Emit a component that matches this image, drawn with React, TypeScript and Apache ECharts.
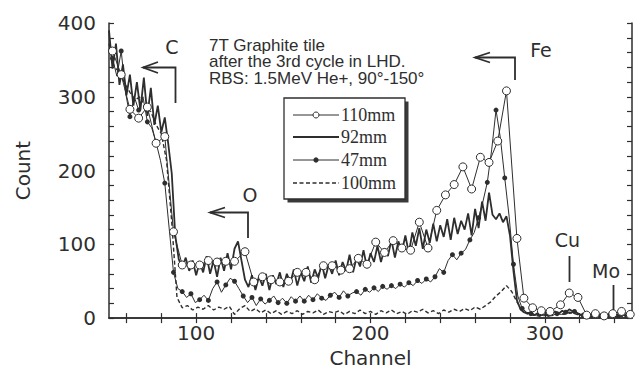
import React, { useEffect, useRef } from "react";
import * as echarts from "echarts";

// ---------- axis ticks / labels ----------
const xTickValues = [60, 80, 100, 120, 140, 160, 180, 200, 220, 240, 260, 280, 300, 320, 340];
const xLabelValues = [100, 200, 300];
const yLabelValues = [0, 100, 200, 300, 400];

// ---------- series names ----------
const seriesNames = ["110mm", "92mm", "47mm", "100mm"];

// ---------- data: [channel, count] ----------
const s110: [number, number][] = [
  [52, 362], [57, 330], [62, 283], [67, 271], [72, 286], [77, 237], [82, 246], [87, 117],
  [92, 72], [97, 72], [102, 72], [107, 78], [112, 76], [117, 77], [122, 77], [128, 90],
  [133, 49], [138, 56], [143, 52], [148, 49], [153, 50], [158, 62], [163, 62], [168, 52],
  [173, 71], [178, 71], [183, 65], [188, 67], [193, 81], [198, 73], [203, 103], [208, 89],
  [213, 105], [218, 95], [223, 92], [228, 130], [233, 95], [238, 146], [243, 167], [248, 181],
  [253, 205], [258, 175], [263, 218], [268, 211], [273, 240], [278, 308], [284, 108], [288, 27],
  [293, 14], [298, 10], [303, 9], [309, 18], [314, 34], [319, 28], [324, 4], [329, 6],
  [334, 3], [339, 6], [344, 9], [349, 5],
];

const s92: [number, number][] = [
  [50, 390], [52, 338], [54, 372], [56, 316], [58, 344], [60, 302], [62, 330], [64, 288],
  [66, 320], [68, 282], [70, 326], [72, 274], [74, 312], [76, 262], [78, 288], [80, 252],
  [82, 272], [84, 236], [86, 196], [88, 112], [90, 80], [92, 68], [94, 82], [96, 64],
  [98, 78], [100, 58], [102, 76], [104, 62], [106, 84], [108, 60], [110, 78], [112, 56],
  [114, 82], [116, 64], [118, 88], [120, 66], [122, 94], [124, 104], [126, 78], [128, 52],
  [130, 42], [132, 58], [134, 38], [136, 56], [138, 44], [140, 60], [142, 38], [144, 58],
  [146, 46], [148, 62], [150, 42], [152, 60], [154, 48], [156, 66], [158, 44], [160, 62],
  [162, 50], [164, 70], [166, 48], [168, 66], [170, 54], [172, 74], [174, 54], [176, 72],
  [178, 60], [180, 78], [182, 58], [184, 76], [186, 64], [188, 86], [190, 62], [192, 82],
  [194, 70], [196, 92], [198, 68], [200, 88], [202, 76], [204, 98], [206, 76], [208, 94],
  [210, 84], [212, 106], [214, 82], [216, 104], [218, 90], [220, 112], [222, 88], [224, 116],
  [226, 98], [228, 122], [230, 94], [232, 120], [234, 102], [236, 128], [238, 104], [240, 126],
  [242, 110], [244, 134], [246, 106], [248, 136], [250, 114], [252, 132], [254, 120], [256, 142],
  [258, 112], [260, 148], [262, 122], [264, 158], [266, 132], [268, 170], [270, 140], [272, 134],
  [274, 142], [276, 130], [278, 138], [280, 112], [282, 64], [284, 24], [286, 12], [288, 8],
  [290, 6], [292, 8], [294, 4], [296, 7], [298, 5], [300, 8], [302, 4], [304, 6],
  [306, 9], [308, 6], [310, 10], [312, 7], [314, 12], [316, 9], [318, 8], [320, 5],
  [322, 3], [324, 4], [326, 2], [328, 4], [330, 3], [332, 2], [334, 4], [336, 3],
  [338, 5], [340, 2], [342, 4], [344, 3], [346, 5], [348, 3], [350, 4],
];

const s47: [number, number][] = [
  [52, 352], [54.5, 328], [57, 362], [59.5, 306], [62, 273], [64.5, 300], [67, 282], [69.5, 300],
  [72, 266], [74.5, 258], [77, 238], [79.5, 214], [82, 183], [84.5, 122], [87, 62], [89.5, 40],
  [92, 36], [94.5, 28], [97, 33], [99.5, 21], [102, 25], [104.5, 31], [107, 24], [109.5, 40],
  [112, 49], [114.5, 35], [117, 45], [119.5, 54], [122, 50], [124.5, 40], [127, 30], [129.5, 21],
  [132, 28], [134.5, 17], [137, 26], [139.5, 19], [142, 24], [144.5, 30], [147, 21], [149.5, 27],
  [152, 20], [154.5, 29], [157, 23], [159.5, 30], [162, 23], [164.5, 31], [167, 25], [169.5, 33],
  [172, 27], [174.5, 24], [177, 31], [179.5, 35], [182, 28], [184.5, 37], [187, 30], [189.5, 34],
  [192, 36], [194.5, 31], [197, 39], [199.5, 35], [202, 41], [204.5, 36], [207, 43], [209.5, 39],
  [212, 44], [214.5, 40], [217, 46], [219.5, 42], [222, 48], [224.5, 44], [227, 51], [229.5, 47],
  [232, 53], [234.5, 49], [237, 56], [239.5, 67], [242, 62], [244.5, 78], [247, 86], [249.5, 79],
  [252, 88], [254.5, 93], [257, 106], [259.5, 116], [262, 136], [264.5, 158], [267, 184], [269.5, 228],
  [272, 282], [274.5, 244], [277, 190], [279.5, 138], [282, 73], [284.5, 30], [287, 13], [289.5, 8],
  [292, 6], [294.5, 4], [297, 5], [299.5, 3], [302, 5], [304.5, 4], [307, 6], [309.5, 5],
  [312, 8], [314.5, 6], [317, 9], [319.5, 5], [322, 4], [324.5, 2], [327, 3], [329.5, 2],
  [332, 3], [334.5, 2], [337, 4], [339.5, 2], [342, 3], [344.5, 4], [347, 3], [349.5, 3],
];

const s100: [number, number][] = [
  [50, 372], [53, 340], [56, 334], [59, 318], [62, 306], [65, 296], [68, 300], [71, 284],
  [74, 280], [77, 262], [80, 250], [83, 214], [86, 130], [89, 28], [92, 14], [95, 17],
  [98, 11], [101, 15], [104, 12], [107, 17], [110, 11], [113, 15], [116, 12], [119, 16],
  [122, 5], [125, 13], [128, 17], [131, 9], [134, 13], [137, 7], [140, 11], [143, 6],
  [146, 10], [149, 5], [152, 9], [155, 6], [158, 10], [161, 5], [164, 9], [167, 7],
  [170, 11], [173, 5], [176, 9], [179, 7], [182, 10], [185, 5], [188, 9], [191, 6],
  [194, 11], [197, 6], [200, 9], [203, 5], [206, 10], [209, 7], [212, 11], [215, 6],
  [218, 9], [221, 5], [224, 10], [227, 8], [230, 12], [233, 7], [236, 10], [239, 6],
  [242, 11], [245, 8], [248, 12], [251, 9], [254, 13], [257, 10], [260, 15], [263, 12],
  [266, 17], [269, 22], [272, 30], [275, 36], [278, 44], [281, 36], [284, 22], [287, 11],
  [290, 6], [293, 4], [296, 3], [299, 5], [302, 3], [305, 4], [308, 6], [311, 5],
  [314, 8], [317, 6], [320, 4], [323, 2], [326, 3], [329, 2], [332, 3], [335, 2],
  [338, 3], [341, 2], [344, 3], [347, 2], [350, 3],
];

// ---------- annotation texts ----------
const infoLines = ["7T Graphite tile", "after the 3rd cycle in LHD.", "RBS: 1.5MeV He+, 90°-150°"];
const elementLabels = ["C", "O", "Fe", "Cu", "Mo"];

const INK = "#2e2e2e";
const SANS = "'DejaVu Sans', sans-serif";
const HELV = "'Liberation Sans', Arial, sans-serif";
const SERIF = "'Liberation Serif', 'Times New Roman', serif";

function txt(text: string, x: number, y: number, font: string, align = "center", vAlign = "middle", lineHeight?: number) {
  return {
    type: "text",
    x,
    y,
    z: 100,
    style: {
      text,
      font,
      fill: INK,
      align,
      verticalAlign: vAlign,
      textAlign: align,
      textVerticalAlign: vAlign,
      lineHeight,
    },
  };
}

function pl(points: number[][], lineWidth = 1.8, lineDash?: number[]) {
  return {
    type: "polyline",
    z: 100,
    shape: { points },
    style: { stroke: INK, lineWidth, fill: null, lineDash },
  };
}

export default function App() {
  const ref = useRef<HTMLDivElement>(null);

  useEffect(() => {
    if (!ref.current) return;
    const chart = echarts.init(ref.current, undefined, { renderer: "svg" });

    const axisLine = { show: true, lineStyle: { color: INK, width: 1.5 } };
    const tickStyle = { color: INK, width: 1.2 };

    const legendRows = [115, 137, 160, 183];

    const graphic: any[] = [
      // info text (one multi-line block)
      txt(infoLines.join("\n"), 209, 36.8, `17px ${HELV}`, "left", "top", 16.5),
      // element labels
      txt(elementLabels[0], 172, 47, `19px ${SANS}`),
      txt(elementLabels[1], 250, 195, `19px ${SANS}`),
      txt(elementLabels[2], 541, 49.5, `19px ${SANS}`),
      txt(elementLabels[3], 567.5, 240, `19px ${SANS}`),
      txt(elementLabels[4], 606, 270.5, `19px ${SANS}`),
      // arrows
      pl([[143, 67.5], [175.5, 67.5], [175.5, 103]]),
      pl([[158, 62], [143, 67.5], [158, 73]]),
      pl([[210, 212.5], [248, 212.5], [248, 238]]),
      pl([[225, 207.5], [210, 212.5], [225, 217.5]]),
      pl([[475, 57.5], [515, 57.5], [515, 80]]),
      pl([[490, 52.5], [475, 57.5], [490, 62.5]]),
      pl([[569.5, 256], [569.5, 282]]),
      pl([[613.5, 285], [613.5, 310]]),
      // legend box
      { type: "rect", z: 99, shape: { x: 287.5, y: 101.5, width: 121, height: 101 }, style: { fill: "#3a3a3a" } },
      { type: "rect", z: 99, shape: { x: 284, y: 98, width: 121, height: 101 }, style: { fill: "#fff", stroke: INK, lineWidth: 1.3 } },
      // legend samples
      pl([[293, legendRows[0]], [339, legendRows[0]]], 1),
      { type: "circle", z: 101, shape: { cx: 316, cy: legendRows[0], r: 3 }, style: { fill: "#fff", stroke: INK, lineWidth: 1 } },
      pl([[293, legendRows[1]], [339, legendRows[1]]], 2),
      pl([[293, legendRows[2]], [339, legendRows[2]]], 1),
      { type: "circle", z: 101, shape: { cx: 316, cy: legendRows[2], r: 2.6 }, style: { fill: INK } },
      pl([[293, legendRows[3]], [339, legendRows[3]]], 1.4, [4, 2.5]),
      txt(seriesNames[0], 341, legendRows[0], `18px ${SERIF}`, "left"),
      txt(seriesNames[1], 341, legendRows[1], `18px ${SERIF}`, "left"),
      txt(seriesNames[2], 341, legendRows[2], `18px ${SERIF}`, "left"),
      txt(seriesNames[3], 341, legendRows[3], `18px ${SERIF}`, "left"),
    ];

    chart.setOption({
      animation: false,
      backgroundColor: "#fff",
      grid: { left: 109, top: 23, width: 523, height: 302, containLabel: false },
      xAxis: [
        {
          type: "value",
          min: 50,
          max: 350,
          position: "bottom",
          axisLine,
          axisTick: { show: true, inside: true, length: 5, customValues: xTickValues, lineStyle: tickStyle },
          axisLabel: { show: true, customValues: xLabelValues, fontSize: 20, fontFamily: SANS, color: INK, margin: 5 },
          splitLine: { show: false },
          name: "Channel",
          nameLocation: "middle",
          nameGap: 27,
          nameTextStyle: { fontSize: 20, fontFamily: SANS, color: INK },
        },
        {
          type: "value",
          min: 50,
          max: 350,
          position: "top",
          axisLine,
          axisTick: { show: true, inside: true, length: 5, customValues: xTickValues, lineStyle: tickStyle },
          axisLabel: { show: false },
          splitLine: { show: false },
        },
      ],
      yAxis: [
        {
          type: "value",
          min: 0,
          max: 400,
          interval: 20,
          position: "left",
          axisLine,
          axisTick: { show: true, inside: true, length: 5, lineStyle: tickStyle },
          axisLabel: { show: true, customValues: yLabelValues, fontSize: 20, fontFamily: SANS, color: INK, margin: 13 },
          splitLine: { show: false },
          name: "Count",
          nameLocation: "middle",
          nameRotate: 90,
          nameGap: 76,
          nameTextStyle: { fontSize: 20, fontFamily: SANS, color: INK },
        },
        {
          type: "value",
          min: 0,
          max: 400,
          interval: 20,
          position: "right",
          axisLine,
          axisTick: { show: true, inside: true, length: 5, lineStyle: tickStyle },
          axisLabel: { show: false },
          splitLine: { show: false },
        },
      ],
      series: [
        {
          name: seriesNames[3],
          type: "line",
          data: s100,
          symbol: "none",
          z: 2,
          lineStyle: { color: INK, width: 1.4, type: [4, 2.5] },
        },
        {
          name: seriesNames[1],
          type: "line",
          data: s92,
          symbol: "none",
          z: 3,
          lineStyle: { color: INK, width: 1.8 },
        },
        {
          name: seriesNames[2],
          type: "line",
          data: s47,
          symbol: "circle",
          showSymbol: true,
          showAllSymbol: true,
          symbolSize: (_v: any, p: any) => (p.dataIndex % 2 === 0 ? 5 : 0),
          z: 4,
          lineStyle: { color: INK, width: 1 },
          itemStyle: { color: INK },
        },
        {
          name: seriesNames[0],
          type: "line",
          data: s110,
          symbol: "circle",
          showSymbol: true,
          showAllSymbol: true,
          symbolSize: 8,
          z: 5,
          lineStyle: { color: INK, width: 1 },
          itemStyle: { color: "#fff", borderColor: INK, borderWidth: 1 },
        },
      ],
      graphic,
    });

    return () => chart.dispose();
  }, []);

  return (
    <div
      ref={ref}
      style={{ position: "absolute", left: 0, top: 0, width: 637, height: 373, background: "#fff" }}
    />
  );
}
